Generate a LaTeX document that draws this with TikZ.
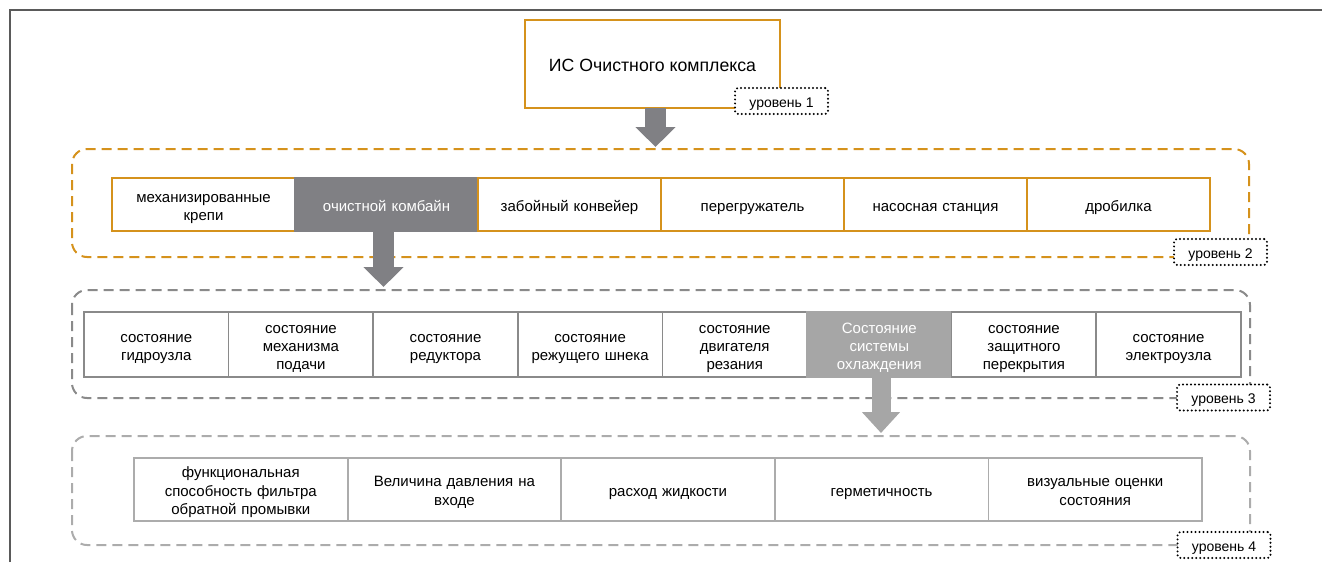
\documentclass[tikz,border=0pt]{standalone}
\usepackage{fontspec}
\setmainfont{Liberation Sans}
\usepackage{tikz}
\usetikzlibrary{positioning}
\usetikzlibrary{arrows.meta}
\definecolor{ochre}{RGB}{213,146,28}
\definecolor{darkbox}{RGB}{128,128,132}
\definecolor{lightbox}{RGB}{166,166,166}
\definecolor{midline}{RGB}{138,138,138}
\definecolor{paleline}{RGB}{172,172,172}
\definecolor{framegray}{RGB}{90,90,90}
\tikzstyle{struts} = [execute at begin node={\rule{0pt}{1.24em}},execute at end node={\rule[-0.36em]{0pt}{0pt}}]
\tikzstyle{lvlone} = [draw=ochre,line width=2pt,minimum width=255pt,minimum height=88pt,outer sep=0pt,struts,font=\fontsize{17.7}{20}\selectfont]
\tikzstyle{boxtwo} = [draw=ochre,line width=2pt,minimum width=183pt,minimum height=53pt,outer sep=0pt,inner sep=0pt,text width=178pt,align=center,struts,font=\fontsize{15}{18}\selectfont]
\tikzstyle{boxtwosel} = [boxtwo,draw=darkbox,fill=darkbox,text=white]
\tikzstyle{boxthree} = [draw=midline,line width=1.6pt,minimum width=144.6pt,minimum height=65pt,outer sep=0pt,inner sep=0pt,text width=140pt,align=center,struts,font=\fontsize{15}{18}\selectfont]
\tikzstyle{boxthreesel} = [boxthree,draw=lightbox,fill=lightbox,text=white]
\tikzstyle{boxfour} = [draw=paleline,line width=1.8pt,minimum width=213.6pt,minimum height=63pt,outer sep=0pt,inner sep=0pt,text width=208pt,align=center,struts,font=\fontsize{15}{18.5}\selectfont]
\tikzstyle{grouptwo} = [draw=ochre,line width=2pt,dash pattern=on 10pt off 6pt,rounded corners=15pt]
\tikzstyle{groupthree} = [grouptwo,draw=midline]
\tikzstyle{groupfour} = [grouptwo,draw=paleline]
\tikzstyle{tag} = [draw,line width=2.2pt,dash pattern=on 0pt off 4pt,line cap=round,rounded corners=3pt,fill=white,minimum width=93pt,minimum height=26pt,inner sep=0pt,struts,font=\fontsize{14}{16}\selectfont]
\tikzstyle{bigarrow} = [line width=21pt,-{Triangle[width=39pt,length=20pt]}]

\begin{document}
\begin{tikzpicture}[x=1pt,y=-1pt]
				\useasboundingbox (0,0) rectangle (1322,562);
				%Frame
				\draw[framegray,line width=2pt] (10,562) -- (10,10) -- (1322,10);
				
				%Groups
				\draw[grouptwo] (72,149) rectangle (1249,257);
				\draw[groupthree] (72,290) rectangle (1250,398);
				\draw[groupfour] (72,436) rectangle (1250,545);
				
				%Nodes
				\node [lvlone,anchor=north west] (ic) at (525,20) {ИС Очистного комплекса};
				
				\node [boxtwo,anchor=north west] (krepi) at (112,178) {механизированные\\крепи};
				\node [boxtwosel,right=0pt of krepi] (kombajn) {очистной комбайн};
				\node [boxtwo,right=0pt of kombajn] (konvejer) {забойный конвейер};
				\node [boxtwo,right=0pt of konvejer] (peregruz) {перегружатель};
				\node [boxtwo,right=0pt of peregruz] (nasos) {насосная станция};
				\node [boxtwo,right=0pt of nasos] (drobilka) {дробилка};
				
				\node [boxthree,anchor=north west] (gidro) at (84,312) {состояние\\гидроузла};
				\node [boxthree,right=0pt of gidro] (podacha) {состояние\\механизма\\подачи};
				\node [boxthree,right=0pt of podacha] (reduktor) {состояние\\редуктора};
				\node [boxthree,right=0pt of reduktor] (shnek) {состояние\\режущего шнека};
				\node [boxthree,right=0pt of shnek] (dvigatel) {состояние\\двигателя\\резания};
				\node [boxthreesel,right=0pt of dvigatel] (ohlazhd) {Состояние\\системы\\охлаждения};
				\node [boxthree,right=0pt of ohlazhd] (perekr) {состояние\\защитного\\перекрытия};
				\node [boxthree,right=0pt of perekr] (elektro) {состояние\\электроузла};
				
				\node [boxfour,anchor=north west] (filtr) at (134,458) {функциональная\\способность фильтра\\обратной промывки};
				\node [boxfour,right=0pt of filtr] (davlenie) {Величина давления на\\входе};
				\node [boxfour,right=0pt of davlenie] (rashod) {расход жидкости};
				\node [boxfour,right=0pt of rashod] (germet) {герметичность};
				\node [boxfour,right=0pt of germet] (vizual) {визуальные оценки\\состояния};
				
				%Levels
				\node [tag] (lvl1) at (781.5,101) {уровень 1};
				\node [tag] (lvl2) at (1220.5,252) {уровень 2};
				\node [tag] (lvl3) at (1223.5,397.5) {уровень 3};
				\node [tag] (lvl4) at (1224,545) {уровень 4};
				
				%Lines
				\coordinate (a1) at (655.5,147);
				\coordinate (a2) at (383.5,287);
				\coordinate (a3) at (881,433);
				\draw[bigarrow,darkbox] (a1 |- ic.south) -- (a1);
				\draw[bigarrow,darkbox] (a2 |- kombajn.south) -- (a2);
				\draw[bigarrow,lightbox,line width=19pt,-{Triangle[width=37pt,length=21pt]}] (a3 |- ohlazhd.south) -- (a3);
\end{tikzpicture}
\end{document}
